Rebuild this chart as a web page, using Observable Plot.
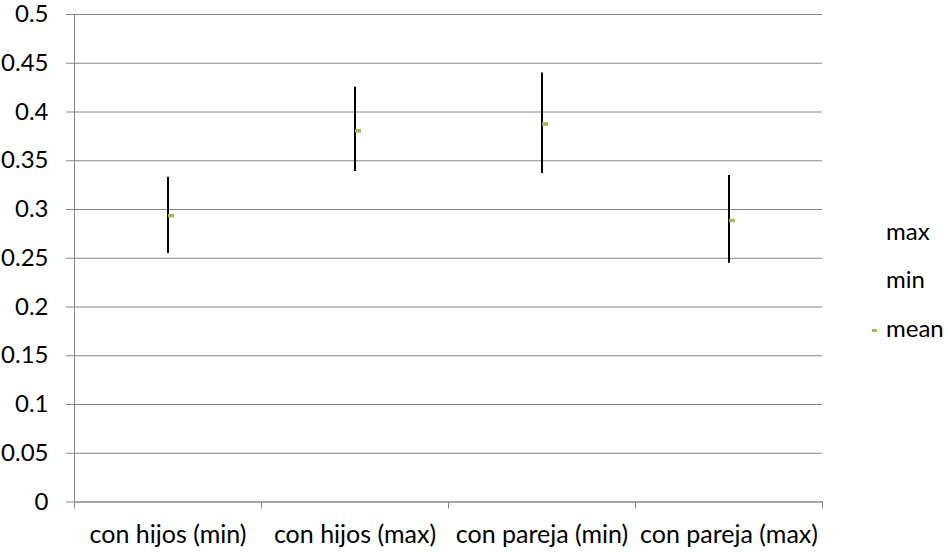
<!DOCTYPE html>
<html>
<head>
<meta charset="utf-8">
<script src="https://cdn.jsdelivr.net/npm/d3@7"></script>
<script src="https://cdn.jsdelivr.net/npm/@observablehq/plot@0.6"></script>
<style>
  html, body { margin: 0; padding: 0; background: #fff; }
  #chart { position: relative; width: 948px; height: 552px; }
</style>
</head>
<body>
<div id="chart"></div>
<script>
const categories = ["con hijos (min)", "con hijos (max)", "con pareja (min)", "con pareja (max)"];
const maxValues  = [0.333, 0.4255, 0.440, 0.335];
const minValues  = [0.255, 0.339, 0.337, 0.245];
const meanValues = [0.294, 0.381, 0.388, 0.289];
const yTicks = [0, 0.05, 0.1, 0.15, 0.2, 0.25, 0.3, 0.35, 0.4, 0.45, 0.5];
const legendLabels = ["max", "min", "mean"];

const rows = categories.map((c, i) => ({
  cat: c, pos: i + 0.5, max: maxValues[i], min: minValues[i], mean: meanValues[i]
}));
const boundaries = d3.range(categories.length + 1);

const GRID = "#868686";
const GREEN = "#9BBB59";
const FONT = "Lato, 'Open Sans', sans-serif";

const dashSymbol = { draw(ctx, size) { ctx.rect(0, -1.5, 6, 3.5); } };

const plot = Plot.plot({
  width: 948,
  height: 552,
  marginLeft: 74,
  marginRight: 126,
  marginTop: 14,
  marginBottom: 50.5,
  style: { fontFamily: FONT, fontSize: "24px", color: "#000", background: "#fff", overflow: "visible" },
  x: { type: "linear", domain: [0, categories.length], label: null },
  y: { domain: [0, 0.5], label: null },
  marks: [
    Plot.gridY(yTicks, { stroke: GRID, strokeOpacity: 1, strokeWidth: 1 }),
    Plot.frame({ anchor: "left", stroke: GRID, strokeWidth: 1 }),
    Plot.frame({ anchor: "bottom", stroke: GRID, strokeWidth: 1 }),
    Plot.axisY(yTicks, {
      tickSize: 8, tickPadding: 18, stroke: GRID, fill: "#000", label: null,
      tickFormat: d => String(+d.toFixed(2)), fontSize: 24
    }),
    Plot.axisX(boundaries, { tickSize: 7, stroke: GRID, tickFormat: () => "", label: null }),
    Plot.axisX(rows.map(d => d.pos), {
      tickSize: 0, tickPadding: 23, fill: "#000", fontSize: 25, label: null,
      tickFormat: d => categories[Math.floor(d)]
    }),
    Plot.ruleX(rows, { x: "pos", y1: "min", y2: "max", stroke: "#000", strokeWidth: 2 }),
    Plot.dot(rows, { x: "pos", y: "mean", symbol: dashSymbol, r: 3, fill: GREEN, stroke: "none" })
  ]
});

document.getElementById("chart").appendChild(plot);

// legend (right side)
const svg = d3.select(plot);
const legendBaselines = [240, 288, 337];
const lg = svg.append("g")
  .attr("font-family", FONT).attr("font-size", 24).attr("fill", "#000")
  .attr("text-anchor", "start");
legendLabels.forEach((lab, i) => {
  lg.append("text").attr("x", 886).attr("y", legendBaselines[i]).text(lab);
});
lg.append("rect").attr("x", 872).attr("y", 329).attr("width", 5).attr("height", 3).attr("fill", GREEN);
</script>
</body>
</html>
